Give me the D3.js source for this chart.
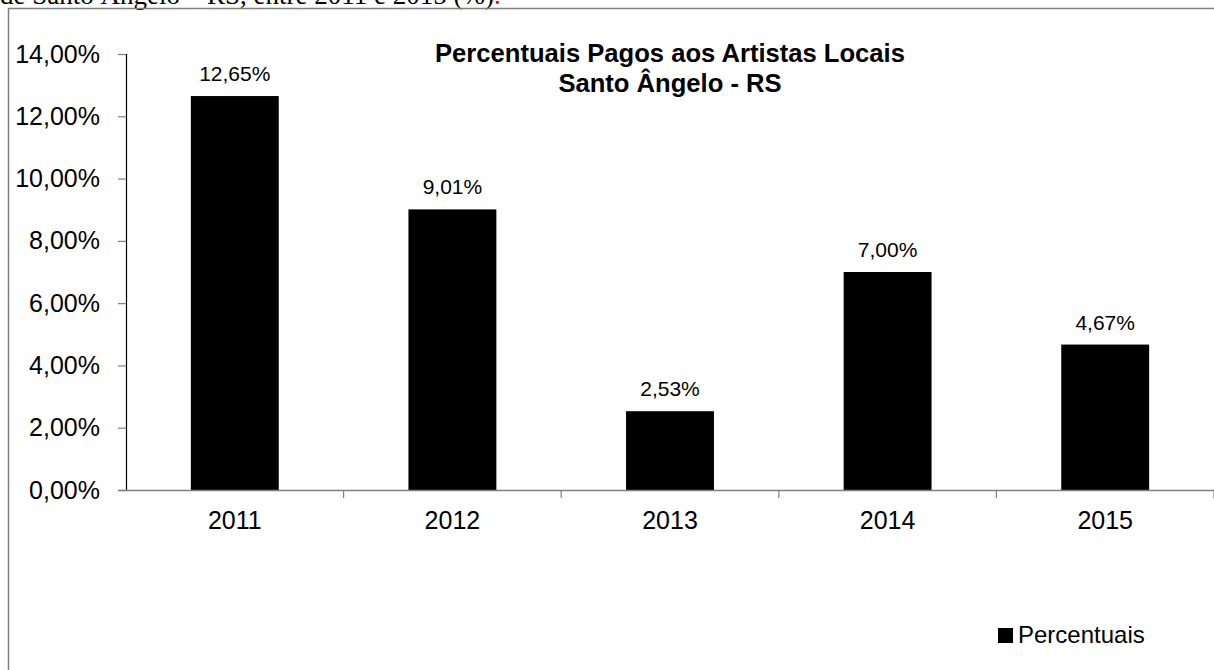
<!DOCTYPE html>
<html>
<head>
<meta charset="utf-8">
<script src="https://cdn.jsdelivr.net/npm/d3@7"></script>
<style>
  html, body { margin: 0; padding: 0; background: #fff; overflow: hidden; }
  svg { display: block; }
</style>
</head>
<body>
<svg id="chart" width="1214" height="670"></svg>
<script>
// Chart data
const years = ["2011", "2012", "2013", "2014", "2015"];
const percentuais = [12.65, 9.01, 2.53, 7.00, 4.67];
const yTicks = [0, 2, 4, 6, 8, 10, 12, 14];
const titleLines = ["Percentuais Pagos aos Artistas Locais", "Santo Ângelo - RS"];
const seriesName = "Percentuais";
const captionText = "de Santo Ângelo – RS, entre 2011 e 2015 (%)";

const svg = d3.select("#chart");
const W = 1214, H = 670;
const plot = { left: 126, right: 1214, top: 54, bottom: 490 };

// Brazilian-style percentage: 12,65%
const fmtPct = v => v.toFixed(2).replace(".", ",") + "%";

// Caption line above the frame (runs off the page top)
const cap = svg.append("text")
  .attr("x", 0).attr("y", 4)
  .attr("font-family", "'Liberation Serif', 'Times New Roman', serif")
  .attr("font-size", 27)
  .attr("fill", "#000");
cap.append("tspan").text(captionText);
cap.append("tspan").attr("fill", "#e00000").text(".");

// Chart frame
svg.append("rect")
  .attr("x", 8.5).attr("y", 8.5)
  .attr("width", W + 20).attr("height", H + 20)
  .attr("fill", "none")
  .attr("stroke", "#7f7f7f")
  .attr("stroke-width", 1.5);

// Scales
const x = d3.scaleBand()
  .domain(years)
  .range([plot.left, plot.right])
  .paddingInner(0.596)
  .paddingOuter(0.298);

const y = d3.scaleLinear()
  .domain([0, 14])
  .range([plot.bottom, plot.top]);

const fontSans = "'Liberation Sans', Arial, sans-serif";

// Y axis
const yAxis = svg.append("g")
  .attr("transform", `translate(${plot.left},0)`)
  .call(d3.axisLeft(y).tickValues(yTicks).tickFormat(fmtPct).tickSize(8).tickPadding(18));
yAxis.select(".domain").attr("stroke", "#000").attr("stroke-width", 1.2);
yAxis.selectAll(".tick line").attr("stroke", "#7f7f7f").attr("stroke-width", 1.2);
yAxis.selectAll(".tick text")
  .attr("font-family", fontSans)
  .attr("font-size", 25)
  .attr("fill", "#000");

// Bars
svg.append("g")
  .selectAll("rect")
  .data(years.map((yr, i) => ({ yr, v: percentuais[i] })))
  .join("rect")
  .attr("x", d => x(d.yr))
  .attr("y", d => y(d.v))
  .attr("width", x.bandwidth())
  .attr("height", d => y(0) - y(d.v))
  .attr("fill", "#000");

// X axis: baseline with ticks at category boundaries
const xAxisG = svg.append("g");
xAxisG.append("line")
  .attr("x1", plot.left - 8).attr("x2", plot.right)
  .attr("y1", y(0) + 0.5).attr("y2", y(0) + 0.5)
  .attr("stroke", "#7f7f7f").attr("stroke-width", 1.5);
const step = x.step();
xAxisG.selectAll("line.xt")
  .data(d3.range(1, years.length + 1))
  .join("line")
  .attr("class", "xt")
  .attr("x1", i => plot.left + i * step).attr("x2", i => plot.left + i * step)
  .attr("y1", y(0)).attr("y2", y(0) + 8)
  .attr("stroke", "#7f7f7f").attr("stroke-width", 1.2);
xAxisG.selectAll("text")
  .data(years)
  .join("text")
  .attr("x", d => x(d) + x.bandwidth() / 2)
  .attr("y", y(0) + 39)
  .attr("text-anchor", "middle")
  .attr("font-family", fontSans)
  .attr("font-size", 25)
  .attr("fill", "#000")
  .text(d => d);

// Value labels
svg.append("g")
  .selectAll("text")
  .data(years.map((yr, i) => ({ yr, v: percentuais[i] })))
  .join("text")
  .attr("x", d => x(d.yr) + x.bandwidth() / 2)
  .attr("y", d => y(d.v) - 15)
  .attr("text-anchor", "middle")
  .attr("font-family", fontSans)
  .attr("font-size", 21)
  .attr("fill", "#000")
  .text(d => fmtPct(d.v));

// Title
svg.append("g")
  .selectAll("text")
  .data(titleLines)
  .join("text")
  .attr("x", 670)
  .attr("y", (d, i) => 62 + i * 30)
  .attr("text-anchor", "middle")
  .attr("font-family", fontSans)
  .attr("font-weight", "bold")
  .attr("font-size", 25.6)
  .attr("fill", "#000")
  .text(d => d);

// Legend
const lg = svg.append("g").attr("transform", "translate(998,628)");
lg.append("rect").attr("width", 15).attr("height", 15).attr("fill", "#000");
lg.append("text")
  .attr("x", 20).attr("y", 15)
  .attr("font-family", fontSans)
  .attr("font-size", 24)
  .attr("fill", "#000")
  .text(seriesName);
</script>
</body>
</html>
